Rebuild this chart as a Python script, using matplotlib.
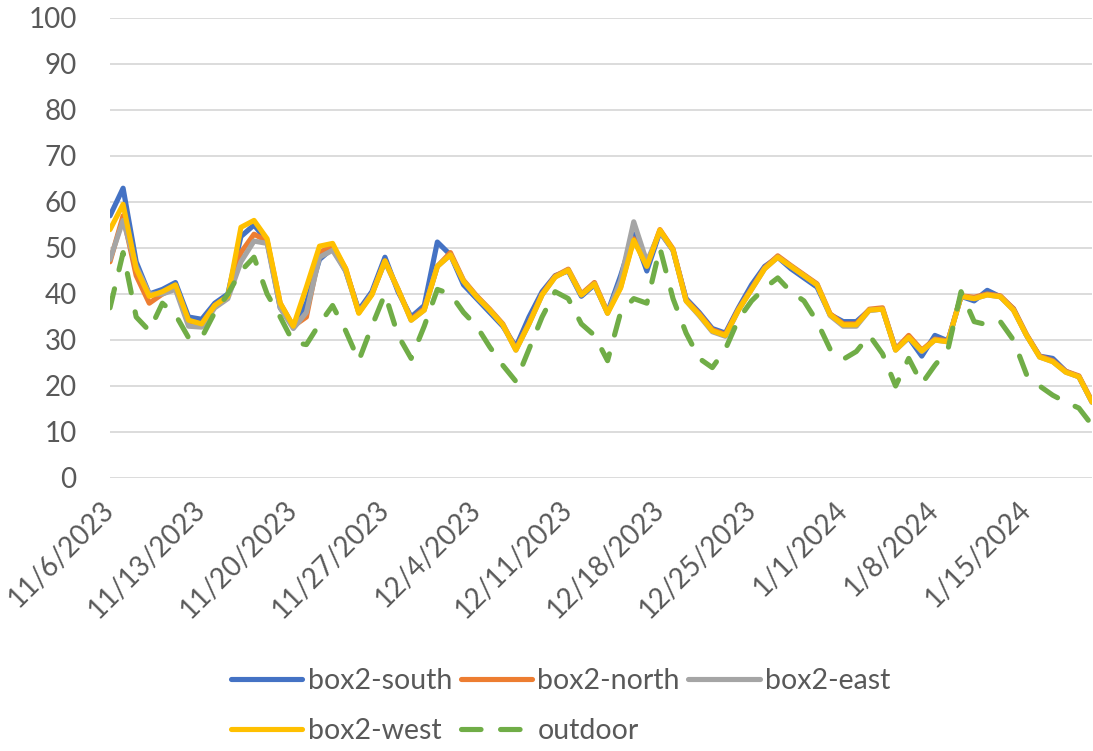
import matplotlib
matplotlib.use("Agg")
import matplotlib.pyplot as plt
import numpy as np

# daily readings, 11/6/2023 onwards
south = [57, 63, 47, 40, 41, 42.5, 35, 34.5, 38, 40,
         52.5, 55, 51.5, 37, 33, 38, 47.5, 50, 45, 36.5,
         40.5, 48, 40.5, 35, 37.5, 51.3, 48.5, 42, 39, 36,
         33, 28.5, 35, 40.5, 44, 45, 39.5, 42, 36, 44,
         53, 45, 53.5, 49.5, 39, 36, 32.5, 31.5, 37, 42,
         46, 48, 45.5, 43.5, 41.5, 35.5, 34, 34, 36.5, 36.7,
         28, 30.5, 26.5, 31, 29.8, 39.5, 38.5, 40.8, 39.4, 36.8,
         31, 26.5, 26, 23.2, 22, 16.5]
north = [47, 57, 44, 38, 40, 41.5, 34, 33.5, 37.5, 39.5,
         49, 53, 51.5, 38, 33, 35, 49, 50.5, 45.5, 36,
         40, 47.2, 41, 34.5, 36.8, 46, 49, 43, 39.6, 36.7,
         33.5, 28, 33.7, 40, 43.9, 45.4, 40, 42.5, 36, 41.5,
         52, 46.2, 54, 49.8, 38.7, 35.7, 32.2, 31.2, 36.7, 41.2,
         45.7, 48.3, 46.2, 44.2, 42.2, 35.7, 33.5, 33.5, 36.7, 37,
         28, 31, 27.8, 30.2, 29.8, 39.6, 39.3, 40, 39.6, 36.8,
         31.2, 26.5, 25.5, 23.2, 22.2, 16.7]
east = [47.5, 56, 46, 40, 40, 41, 33, 32.8, 37, 39,
        47, 51.5, 51, 37, 32.5, 36, 48, 49.5, 45, 36,
        40, 47, 41, 34.3, 36.5, 46, 48.5, 42.8, 39.4, 36.5,
        33.3, 27.8, 33.5, 39.8, 43.7, 45.2, 39.8, 42.2, 35.8, 43,
        55.7, 47, 53.5, 49.5, 38.5, 35.3, 31.8, 30.8, 36.5, 41,
        45.5, 48, 46, 44, 42, 35.3, 33, 33, 36.5, 36.7,
        27.8, 30.5, 27.5, 30, 29.6, 39.5, 39, 39.8, 39.4, 36.5,
        31, 26.3, 25.3, 23, 22, 16.5]
west = [54, 59.5, 45.5, 39.5, 40.5, 42, 34.3, 33.5, 37.5, 39.5,
        54.5, 56, 52, 38, 33, 41.5, 50.4, 51, 45.5, 35.8,
        39.8, 47.2, 41, 34.3, 36.5, 46, 48.5, 42.8, 39.4, 36.5,
        33.3, 27.8, 33.5, 39.8, 43.7, 45.2, 39.8, 42.2, 35.8, 41.3,
        51.7, 46, 53.9, 49.6, 38.5, 35.5, 32, 31, 36.5, 41,
        45.5, 48, 46, 44, 42, 35.5, 33.3, 33.3, 36.5, 36.7,
        27.8, 30.6, 27.6, 30, 29.6, 39.5, 39, 39.8, 39.4, 36.5,
        31, 26.3, 25.3, 23, 22, 16.5]
outdoor = [37, 49, 35, 32, 38, 35.5, 30.5, 30.5, 36, 40,
           45, 48, 40, 35, 29.5, 29, 33.5, 37.5, 32, 25.5,
           33, 40, 31, 26, 33, 41, 40, 36, 33, 28.5,
           24.5, 21, 28, 35, 40.5, 39, 33.5, 31, 25.5, 36,
           39, 38, 50, 39, 31.5, 26, 24, 28, 34.5, 38.5,
           41.3, 43.5, 40.5, 38.5, 34, 28, 25.8, 27.5, 31, 27,
           20, 26, 20.5, 24.5, 28, 40.5, 34, 33.3, 34, 30,
           22.5, 20, 18, 16.5, 15.2, 11.5]

# one label every 7 days
tick_labels = ["11/6/2023", "11/13/2023", "11/20/2023", "11/27/2023",
               "12/4/2023", "12/11/2023", "12/18/2023", "12/25/2023",
               "1/1/2024", "1/8/2024", "1/15/2024"]

plt.rcParams['font.family'] = ['Lato', 'DejaVu Sans']
txt = '#595959'

fig = plt.figure(figsize=(10.93, 7.51), dpi=100)
ax = fig.add_axes([110 / 1093, 1 - 478 / 751, 982 / 1093, 460 / 751])

series = [
    (south, 'box2-south', '#4472C4'),
    (north, 'box2-north', '#ED7D31'),
    (east, 'box2-east', '#A5A5A5'),
    (west, 'box2-west', '#FFC000'),
]
lines = {}
for vals, name, col in series:
    lines[name], = ax.plot(np.arange(len(vals)), vals, color=col, lw=3.7, label=name,
                           solid_joinstyle='round', solid_capstyle='round')
lines['outdoor'], = ax.plot(np.arange(len(outdoor)), outdoor, color='#70AD47', lw=3.7,
                            label='outdoor', dashes=(3.8, 3.8), dash_capstyle='round')

ax.set_xlim(0, len(west) - 1)
ax.set_ylim(0, 100)
ax.set_yticks(np.arange(0, 101, 10))
ax.set_xticks(np.arange(len(tick_labels)) * 7)
ax.set_xticklabels(tick_labels, rotation=45, ha='right', va='center',
                   rotation_mode='anchor')
ax.tick_params(axis='x', length=0, pad=20, labelsize=20, labelcolor=txt)
ax.tick_params(axis='y', length=0, pad=24, labelsize=20, labelcolor=txt)

ax.grid(axis='y', color='#D9D9D9', lw=1.3)
ax.set_axisbelow(True)
for s in ax.spines.values():
    s.set_visible(False)

# legend fills column by column, so order it to read row by row
order = ['box2-south', 'box2-west', 'box2-north', 'outdoor', 'box2-east']
fig.legend([lines[k] for k in order], order, loc='center',
           bbox_to_anchor=(0.513, 0.06), ncol=3, frameon=False,
           fontsize=20.5, handlelength=2.5, handletextpad=0.2, columnspacing=0.3,
           labelspacing=0.85, labelcolor=txt)

fig.savefig('out.png', dpi=100)
